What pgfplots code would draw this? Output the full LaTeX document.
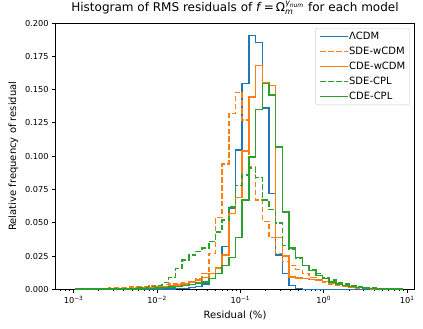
\documentclass[border=0pt]{standalone}
\usepackage{fontspec}
\setmainfont{DejaVu Sans}
\usepackage{amsmath}
\usepackage{pgfplots}
\usepackage{pgfplotstable}
\pgfplotsset{compat=1.18}
\definecolor{tabblue}{HTML}{1F77B4}
\definecolor{taborange}{HTML}{FF7F0E}
\definecolor{tabgreen}{HTML}{2CA02C}

% e = log10 of bin left edge; a = LCDM, b = SDE-wCDM, c = CDE-wCDM, d = SDE-CPL, g = CDE-CPL
\pgfplotstableread{
e a b c d g
-2.980 0 0.0003 0.0002 0.0001 0.0001
-2.900 0 0.0004 0.0002 0.0001 0.0001
-2.820 0 0.0005 0.0003 0.0001 0.0001
-2.740 0 0.0006 0.0003 0.0002 0.0001
-2.660 0 0.0008 0.0004 0.0002 0.0001
-2.580 0 0.0010 0.0005 0.0003 0.0002
-2.499 0 0.0012 0.0006 0.0004 0.0002
-2.419 0 0.0014 0.0007 0.0005 0.0002
-2.339 0 0.0016 0.0008 0.0007 0.0003
-2.259 0 0.0019 0.0010 0.0010 0.0004
-2.179 0 0.0022 0.0012 0.0014 0.0005
-2.099 0 0.0026 0.0015 0.0020 0.0007
-2.019 0.0001 0.0030 0.0018 0.0030 0.0010
-1.939 0.0002 0.0035 0.0022 0.0050 0.0013
-1.859 0.0003 0.0040 0.0027 0.0090 0.0017
-1.779 0.0005 0.0045 0.0033 0.0156 0.0022
-1.698 0.0008 0.0050 0.0040 0.0220 0.0030
-1.618 0.0012 0.0060 0.0055 0.0256 0.0038
-1.538 0.0020 0.0080 0.0070 0.0286 0.0046
-1.458 0.0040 0.0120 0.0090 0.0310 0.0055
-1.378 0.0080 0.0270 0.0120 0.0360 0.0080
-1.298 0.0165 0.0540 0.0160 0.0430 0.0120
-1.218 0.0320 0.0940 0.0256 0.0520 0.0180
-1.138 0.0610 0.1320 0.0570 0.0620 0.0240
-1.058 0.1045 0.1480 0.0690 0.0780 0.0390
-0.978 0.1546 0.1270 0.1040 0.0860 0.0670
-0.897 0.1905 0.0920 0.1446 0.0910 0.0995
-0.817 0.1855 0.0670 0.1680 0.0840 0.1350
-0.737 0.1360 0.0510 0.1550 0.0670 0.1546
-0.657 0.0720 0.0390 0.1530 0.0600 0.1460
-0.577 0.0256 0.0270 0.0390 0.0500 0.1070
-0.497 0.0118 0.0210 0.0250 0.0330 0.0580
-0.417 0.0030 0.0180 0.0092 0.0300 0.0310
-0.337 0.0005 0.0150 0.0085 0.0230 0.0240
-0.257 0 0.0120 0.0080 0.0180 0.0180
-0.177 0 0.0090 0.0075 0.0150 0.0140
-0.096 0 0.0070 0.0070 0.0120 0.0105
-0.016 0 0.0050 0.0060 0.0090 0.0080
0.064 0 0.0040 0.0045 0.0070 0.0055
0.144 0 0.0030 0.0035 0.0050 0.0040
0.224 0 0.0020 0.0025 0.0040 0.0030
0.304 0 0.0013 0.0018 0.0030 0.0020
0.384 0 0.0008 0.0012 0.0020 0.0015
0.464 0 0.0005 0.0008 0.0015 0.0010
0.544 0 0.0003 0.0005 0.0010 0.0007
0.625 0 0.0002 0.0003 0.0006 0.0004
0.705 0 0.0001 0.0002 0.0003 0.0002
0.785 0 0.0001 0.0001 0.0002 0.0001
0.865 0 0 0 0.0001 0.0001
0.945 0 0 0 0 0
}\hist

\begin{document}
\begin{tikzpicture}
\useasboundingbox (-55.5pt,-39pt) rectangle (367pt,289pt);
\begin{axis}[
  scale only axis, width=358.5pt, height=266pt,
  xmode=log, xmin=6.08e-4, xmax=12.25,
  ymin=0, ymax=0.2,
  axis line style={black, line width=0.8pt},
  tick align=outside, xtick pos=bottom, ytick pos=left,
  major tick length=3.5pt, minor tick length=2pt,
  tick style={black, line width=0.8pt},
  minor tick style={line width=0.6pt},
  xtick={1e-3,1e-2,1e-1,1,10},
  xticklabels={10\textsuperscript{−3},10\textsuperscript{−2},10\textsuperscript{−1},10\textsuperscript{0},10\textsuperscript{1}},
  minor xtick={7e-4,8e-4,9e-4,2e-3,3e-3,4e-3,5e-3,6e-3,7e-3,8e-3,9e-3,2e-2,3e-2,4e-2,5e-2,6e-2,7e-2,8e-2,9e-2,0.2,0.3,0.4,0.5,0.6,0.7,0.8,0.9,2,3,4,5,6,7,8,9},
  ytick={0,0.025,0.05,0.075,0.1,0.125,0.15,0.175,0.2},
  yticklabels={0.000,0.025,0.050,0.075,0.100,0.125,0.150,0.175,0.200},
  ticklabel style={font=\fontsize{8.2}{9.8}\selectfont},
  label style={font=\fontsize{10}{12}\selectfont},
  title style={font=\fontsize{12}{14}\selectfont, yshift=-1pt},
  title={Histogram of RMS residuals of \textit{f}\,=\,Ω$_{\textit{m}}^{\textit{γ}_{\textit{num}}}$ for each model},
  xlabel={Residual (\%)},
  ylabel={Relative frequency of residual},
  legend style={at={(1,1)}, anchor=north east, xshift=-5pt, yshift=-5pt,
    draw=black!20, rounded corners=2pt, font=\fontsize{10}{12}\selectfont,
    inner xsep=4pt, inner ysep=3.5pt, row sep=5.5pt, column sep=0pt,
    nodes={inner sep=0pt, text height=7.5pt, text depth=2pt}},
  legend cell align=left,
  legend image code/.code={\draw[#1] (0pt,0pt) -- (20pt,0pt); \path (0pt,0pt) -- (28pt,0pt);},
  every axis plot/.append style={line width=1.5pt, const plot},
]
\addplot[tabblue] table[x expr={10^(\thisrow{e})}, y=a] {\hist};
\addlegendentry{ΛCDM}
\addplot[taborange, dash pattern=on 5.5pt off 2.4pt] table[x expr={10^(\thisrow{e})}, y=b] {\hist};
\addlegendentry{SDE-wCDM}
\addplot[taborange] table[x expr={10^(\thisrow{e})}, y=c] {\hist};
\addlegendentry{CDE-wCDM}
\addplot[tabgreen, dash pattern=on 5.5pt off 2.4pt] table[x expr={10^(\thisrow{e})}, y=d] {\hist};
\addlegendentry{SDE-CPL}
\addplot[tabgreen] table[x expr={10^(\thisrow{e})}, y=g] {\hist};
\addlegendentry{CDE-CPL}
\end{axis}
\end{tikzpicture}
\end{document}
